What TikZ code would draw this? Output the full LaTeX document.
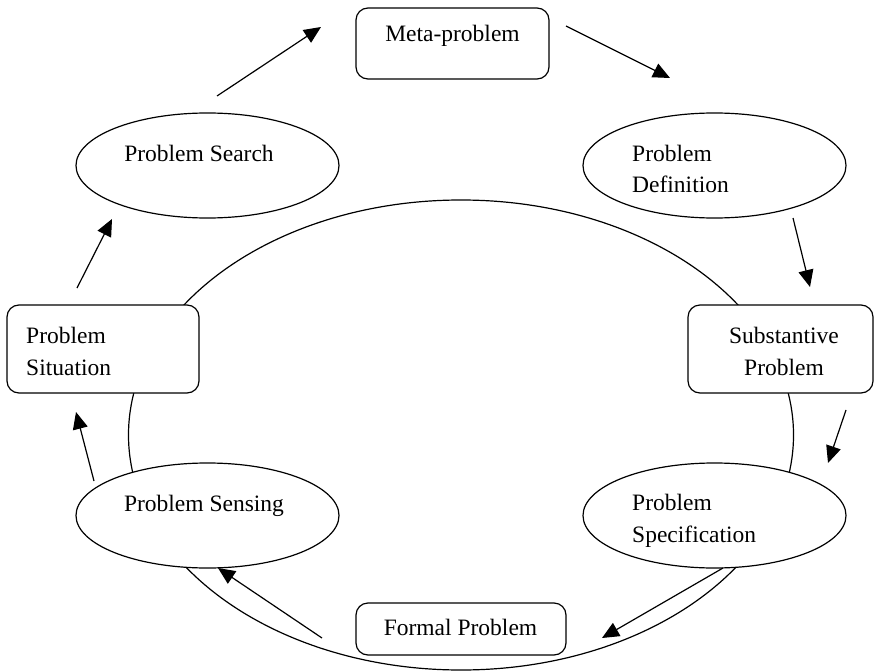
\documentclass[tikz,border=0pt]{standalone}
\usepackage{fontspec}
\setmainfont{Liberation Serif}
\usetikzlibrary{arrows.meta,shapes.geometric}
\begin{document}
\begin{tikzpicture}[x=1pt,y=-1pt,
  ln/.style={line width=1.2pt},
  ell/.style={ln,draw,fill=white,ellipse,minimum width=263pt,minimum height=105pt,inner sep=0pt},
  rbox/.style={ln,draw,fill=white,rectangle,rounded corners=12pt,inner sep=0pt},
  txt/.style={font=\fontsize{23.5}{32}\selectfont,inner sep=0pt},
  arr/.style={ln,-{Triangle[length=17pt,width=15pt]}}]
\useasboundingbox (0,0) rectangle (877,671);
% big cycle
\draw[ln] (461,435) ellipse [x radius=332.5pt, y radius=235pt];
% shapes
\node[rbox,minimum width=193pt,minimum height=71pt] (meta) at (452.5,43.5) {};
\node[ell] (search) at (207.5,165.5) {};
\node[ell] (defn) at (714.5,165.5) {};
\node[rbox,minimum width=185pt,minimum height=88pt] (subst) at (780.5,349) {};
\node[rbox,minimum width=192pt,minimum height=88pt] (situ) at (103,349) {};
\node[ell] (sensing) at (207.5,515.5) {};
\node[ell] (spec) at (714.5,515.5) {};
\node[rbox,minimum width=210pt,minimum height=52pt] (formal) at (461,629) {};
% texts
\node[txt,anchor=base] (meta-t) at (452.5,42) {Meta-problem};
\node[txt,anchor=base] (search-t) at (199,161) {Problem Search};
\node[txt,anchor=base west] (defn-t1) at (632,161) {Problem};
\node[txt,anchor=base west] (defn-t2) at (632,193) {Definition};
\node[txt,anchor=base] (subst-t1) at (784,343) {Substantive};
\node[txt,anchor=base] (subst-t2) at (784,375) {Problem};
\node[txt,anchor=base west] (situ-t1) at (26,343) {Problem};
\node[txt,anchor=base west] (situ-t2) at (26,375) {Situation};
\node[txt,anchor=base] (sensing-t) at (204,511) {Problem Sensing};
\node[txt,anchor=base west] (spec-t1) at (632,510) {Problem};
\node[txt,anchor=base west] (spec-t2) at (632,542) {Specification};
\node[txt,anchor=base] (formal-t) at (460.5,635) {Formal Problem};
% arrow end points
\coordinate (a1s) at (217,96);  \coordinate (a1e) at (321,27);
\coordinate (a2s) at (566,26);  \coordinate (a2e) at (670,78);
\coordinate (a3s) at (793,218); \coordinate (a3e) at (810,287);
\coordinate (a4s) at (846,410); \coordinate (a4e) at (828,463);
\coordinate (a5s) at (723,568); \coordinate (a5e) at (602,638);
\coordinate (a6s) at (322,638); \coordinate (a6e) at (218,568);
\coordinate (a7s) at (94,481);  \coordinate (a7e) at (76,412);
\coordinate (a8s) at (77,288);  \coordinate (a8e) at (112,219);
\draw[arr] (a1s) -- (a1e);
\draw[arr] (a2s) -- (a2e);
\draw[arr] (a3s) -- (a3e);
\draw[arr] (a4s) -- (a4e);
\draw[arr] (a5s) -- (a5e);
\draw[arr] (a6s) -- (a6e);
\draw[arr] (a7s) -- (a7e);
\draw[arr] (a8s) -- (a8e);
\end{tikzpicture}
\end{document}
